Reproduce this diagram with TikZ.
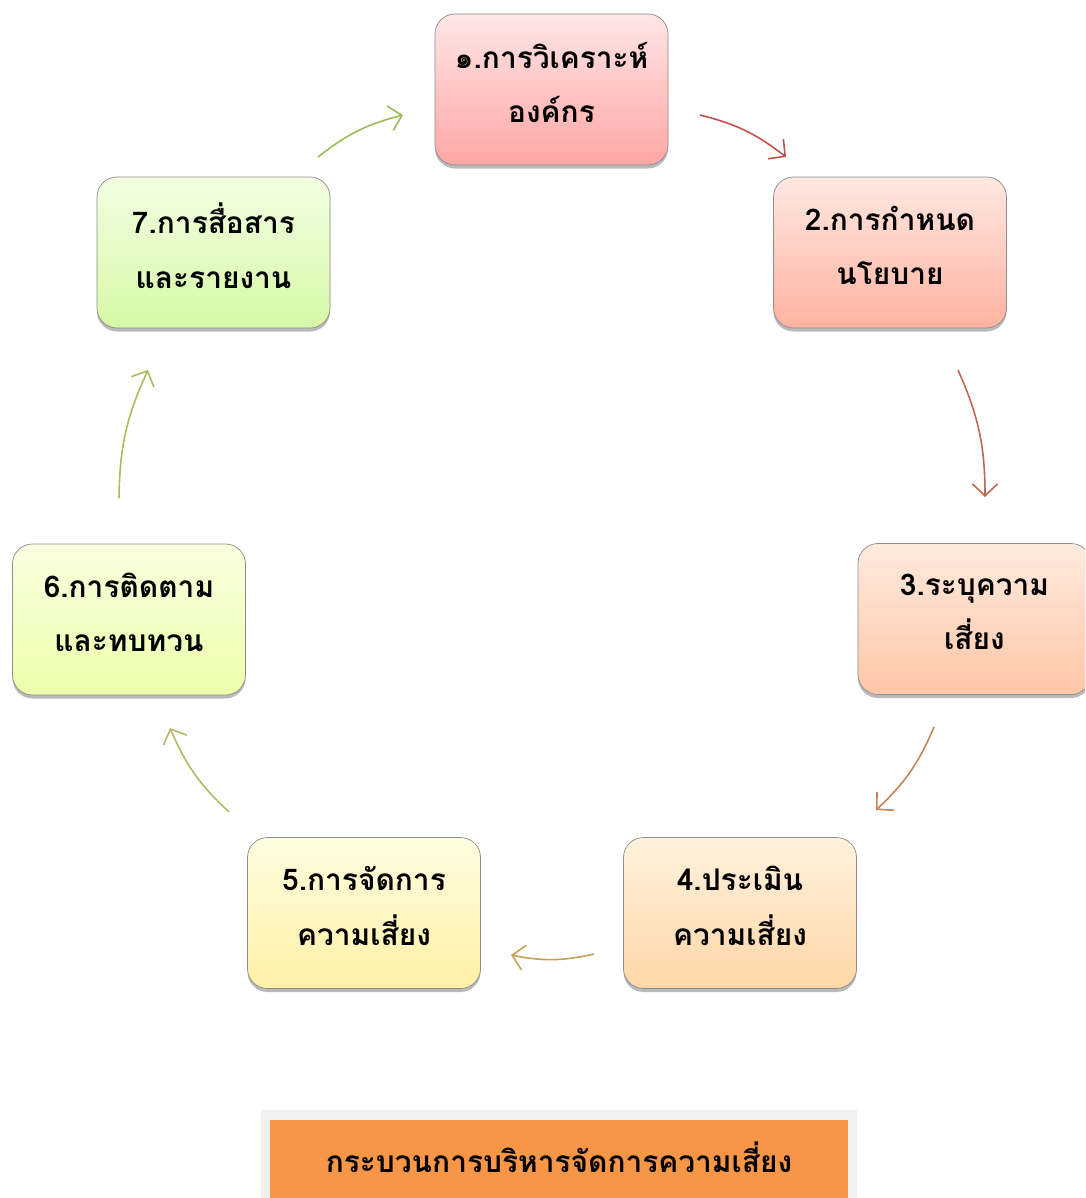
\documentclass[tikz,border=0pt]{standalone}
\usepackage{fontspec}
\newfontfamily\thaifont[Script=Thai]{Loma}
\usepackage{tikz}
\usetikzlibrary{arrows.meta, shadows, backgrounds}

\definecolor{titleorange}{HTML}{F79646}

\begin{document}
\begin{tikzpicture}
      [
        box/.style={rounded corners=0.4cm, draw=black!45, thin,
          minimum width=4.66cm, minimum height=3.02cm, align=center, text depth=8pt,
          font=\thaifont\bfseries\fontsize{17}{31}\selectfont,
          drop shadow={shadow xshift=0pt, shadow yshift=-0.07cm, fill=black!60, opacity=0.45}},
        flow/.style={line width=0.9pt, -{Straight Barb[length=2.4mm, width=5mm]}, bend left=12}
      ]
      \useasboundingbox (0,0) rectangle (21.7,-23.96);
      \clip (0,0) rectangle (21.7,-23.96);
      % steps
      \node [box, top color=red!10, bottom color=red!35] (s1) at (11.03,-1.79)
        {๑.การวิเคราะห์\\องค์กร};
      \node [box, top color={rgb,255:red,255;green,232;blue,226}, bottom color={rgb,255:red,255;green,178;blue,160}] (s2) at (17.80,-5.05)
        {2.การกำหนด\\นโยบาย};
      \node [box, top color={rgb,255:red,255;green,234;blue,222}, bottom color={rgb,255:red,255;green,198;blue,166}] (s3) at (19.49,-12.38)
        {3.ระบุความ\\เสี่ยง};
      \node [box, top color={rgb,255:red,255;green,242;blue,222}, bottom color={rgb,255:red,255;green,214;blue,166}] (s4) at (14.80,-18.26)
        {4.ประเมิน\\ความเสี่ยง};
      \node [box, top color={rgb,255:red,255;green,253;blue,224}, bottom color={rgb,255:red,255;green,240;blue,166}] (s5) at (7.28,-18.26)
        {5.การจัดการ\\ความเสี่ยง};
      \node [box, top color={rgb,255:red,250;green,255;blue,224}, bottom color={rgb,255:red,236;green,255;blue,170}] (s6) at (2.58,-12.39)
        {6.การติดตาม\\และทบทวน};
      \node [box, top color={rgb,255:red,242;green,255;blue,226}, bottom color={rgb,255:red,214;green,248;blue,166}] (s7) at (4.27,-5.05)
        {7.การสื่อสาร\\และรายงาน};
      % arrow ends
      \coordinate (a1) at (14.00,-2.30);  \coordinate (b1) at (15.72,-3.14);
      \coordinate (a2) at (19.16,-7.40);  \coordinate (b2) at (19.70,-9.94);
      \coordinate (a3) at (18.68,-14.54); \coordinate (b3) at (17.52,-16.20);
      \coordinate (a4) at (11.88,-19.08); \coordinate (b4) at (10.22,-19.10);
      \coordinate (a5) at (4.58,-16.24);  \coordinate (b5) at (3.40,-14.56);
      \coordinate (a6) at (2.38,-9.96);   \coordinate (b6) at (2.96,-7.40);
      \coordinate (a7) at (6.36,-3.14);   \coordinate (b7) at (8.06,-2.30);
      % arrows
      \draw [flow, color={rgb,255:red,192;green,80;blue,77}] (a1) to (b1);
      \draw [flow, color={rgb,255:red,194;green,102;blue,78}] (a2) to (b2);
      \draw [flow, color={rgb,255:red,196;green,132;blue,88}] (a3) to (b3);
      \draw [flow, color={rgb,255:red,198;green,160;blue,82}] (a4) to (b4);
      \draw [flow, color={rgb,255:red,182;green,182;blue,102}] (a5) to (b5);
      \draw [flow, color={rgb,255:red,168;green,188;blue,92}] (a6) to (b6);
      \draw [flow, color={rgb,255:red,155;green,187;blue,89}] (a7) to (b7);
      % title
      \node [fill=titleorange, minimum width=11.56cm, minimum height=1.6cm,
        font=\thaifont\bfseries\fontsize{17}{22}\selectfont] (title) at (11.18,-23.2)
        {\raisebox{3pt}{กระบวนการบริหารจัดการความเสี่ยง}};
      \begin{scope}[on background layer]
        \fill [black!6] ([shift={(-0.18,0.2)}]title.north west) rectangle ([shift={(0.18,-0.2)}]title.south east);
      \end{scope}
    \end{tikzpicture}
\end{document}
